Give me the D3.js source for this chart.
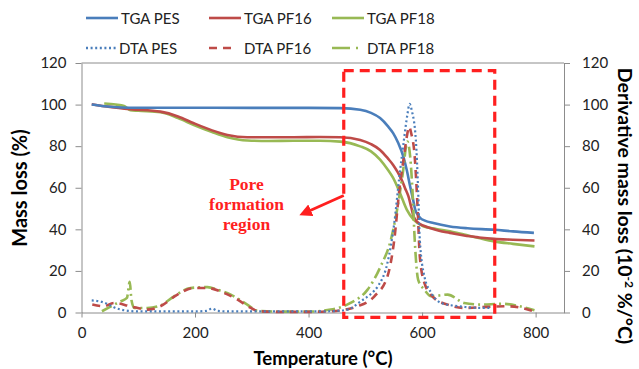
<!DOCTYPE html>
<html><head><meta charset="utf-8">
<script src="https://cdn.jsdelivr.net/npm/d3@7"></script>
<style>
body{margin:0;background:#fff;}
svg{display:block;font-family:Lato,"Open Sans",sans-serif;}
</style></head>
<body><svg id="chart" width="639" height="369"></svg>
<script>
// ---------- DATA ----------
const xTicks = [0, 200, 400, 600, 800];
const yTicks = [0, 20, 40, 60, 80, 100, 120];

const tgaPesT = [18, 40, 70, 100, 200, 300, 400, 456, 491, 510, 526, 540, 549, 558, 567, 573, 579, 584, 588, 593, 597, 605, 620, 649, 680, 727, 760, 797];
const tgaPesV = [100, 99.2, 98.6, 98.5, 98.5, 98.4, 98.4, 98.3, 97.5, 96, 93.5, 89.5, 86.3, 81.5, 75, 68.5, 60.6, 54.5, 49.4, 46.8, 45.4, 44.2, 43, 41.4, 40.5, 39.8, 39, 38.3];

const tgaPf16T = [18, 50, 86, 139, 170, 198, 230, 257, 292, 330, 374, 420, 456, 491, 510, 526, 540, 549, 557, 564, 570, 576, 581, 585, 594, 604, 614, 630, 649, 674, 700, 727, 760, 798];
const tgaPf16V = [100.2, 98.9, 97.8, 96.6, 94.3, 91, 87.6, 85.4, 84.3, 84.3, 84.3, 84.4, 84.3, 83, 81, 78.2, 74, 71, 67.5, 63.8, 59.8, 55.8, 50.5, 46.2, 43, 41.6, 40.6, 39.3, 38.3, 37, 36.1, 35.4, 35, 34.6];

const tgaPf18T = [40, 60, 75, 86, 100, 139, 170, 198, 230, 257, 292, 330, 374, 420, 456, 491, 510, 526, 540, 549, 561, 573, 585, 602, 625, 649, 674, 700, 727, 760, 798];
const tgaPf18V = [100.5, 100, 99.3, 97.3, 97, 96.3, 93.5, 90.2, 86.8, 84.3, 82.7, 82.5, 82.6, 82.6, 82.2, 79.9, 77.5, 73.5, 68.5, 64.7, 57.5, 49.5, 44.7, 41.5, 40.2, 39.1, 37.5, 35.8, 34.2, 33, 31.8];

const dtaPesT = [18, 36, 48, 57, 75, 100, 150, 200, 220, 230, 240, 260, 300, 350, 400, 439, 469, 492, 510, 522, 539, 551, 560, 568, 574, 578, 582, 589, 593, 596, 604, 616, 633, 651, 674, 700, 720];
const dtaPesV = [5.8, 5.1, 3.8, 2.5, 1.1, 0.5, 0.5, 0.5, 0.8, 1.9, 0.8, 0.5, 0.5, 0.5, 0.5, 0.6, 1.4, 5.4, 9, 12.6, 23.9, 43, 65.4, 83, 95, 100.3, 97, 83, 59, 35, 17.4, 9.5, 4.6, 3.5, 2.7, 2.2, 2.2];

const dtaPf16T = [19, 39, 57, 86, 116, 139, 169, 198, 222, 251, 275, 298, 313, 350, 400, 440, 486, 516, 539, 551, 560, 568, 574, 577, 581, 587, 592, 596, 604, 621, 645, 674, 716, 751, 797];
const dtaPf16V = [3.8, 3, 4.6, 3, 1.4, 3, 8.6, 11.8, 11.8, 9.4, 6.2, 2.2, 0.6, 0.3, 0.3, 0.6, 3, 7.8, 17.4, 35, 59, 75, 86, 89.4, 86, 75, 51, 27, 14.3, 7, 3.8, 2.2, 2.7, 3, 0.6];

const dtaPf18T = [36, 69, 80, 85, 88, 93, 116, 139, 163, 192, 222, 239, 263, 292, 310, 350, 400, 439, 474, 504, 527, 545, 557, 566, 574, 579, 583, 587, 593, 604, 616, 645, 674, 704, 739, 798];
const dtaPf18V = [0.6, 5.4, 7, 14.8, 6, 2.2, 2.2, 3.4, 7.8, 11.8, 12.2, 11, 8.6, 3.8, 0.8, 0.4, 0.4, 1.4, 4.6, 11, 22.2, 35, 51, 67, 82.2, 75, 59, 35, 15.8, 11, 7.8, 8.6, 4.6, 3.8, 4.2, 1.1];

// annotation box (data units)
const boxX = [462, 728];
const boxY = [-2.3, 116.3];

// ---------- LAYOUT ----------
const W = 639, H = 369;
const m = {left: 81.5, right: 75, top: 63, bottom: 56.5};
const svg = d3.select("#chart");
const x = d3.scaleLinear().domain([0, 850]).range([m.left, W - m.right]);
const y = d3.scaleLinear().domain([0, 120]).range([H - m.bottom, m.top]);
const yR = d3.scaleLinear().domain([0, 120]).range([H - m.bottom, m.top]);

const axisCol = "#8c8c8c";
const blue = "#4a7ebb", red = "#be4b48", green = "#98b954";

// frame top line
svg.append("line").attr("x1", x(0)).attr("x2", x(850)).attr("y1", y(120)).attr("y2", y(120))
  .attr("stroke", axisCol).attr("stroke-width", 1);

function styleAxis(g){
  g.select(".domain").attr("stroke", axisCol);
  g.selectAll(".tick line").attr("stroke", axisCol);
  g.selectAll(".tick text").attr("fill", "#222").style("font-size", "15px").style("font-family", "Lato, sans-serif");
}
svg.append("g").attr("transform", `translate(0,${y(0)})`)
  .call(d3.axisBottom(x).tickValues(xTicks).tickSize(5).tickSizeOuter(0).tickPadding(10))
  .call(styleAxis);
svg.append("g").attr("transform", `translate(${x(0)},0)`)
  .call(d3.axisLeft(y).tickValues(yTicks).tickSize(6).tickSizeOuter(0).tickPadding(9))
  .call(styleAxis);
svg.append("g").attr("transform", `translate(${x(850)},0)`)
  .call(d3.axisRight(yR).tickValues(yTicks).tickSize(6).tickSizeOuter(0).tickPadding(12))
  .call(styleAxis);

// ---------- SERIES ----------
function pts(T, V){ return T.map((t, i) => [t, V[i]]); }
const lineL = d3.line().x(d => x(d[0])).y(d => y(d[1])).curve(d3.curveMonotoneX);
const lineR = d3.line().x(d => x(d[0])).y(d => yR(d[1])).curve(d3.curveMonotoneX);

const dta = [
  {T: dtaPf18T, V: dtaPf18V, c: green, dash: "11,4,2,4", w: 2.6},
  {T: dtaPf16T, V: dtaPf16V, c: red, dash: "8,6", w: 2.6},
  {T: dtaPesT, V: dtaPesV, c: blue, dash: "2,2.6", w: 2.2}
];
const tga = [
  {T: tgaPf18T, V: tgaPf18V, c: green},
  {T: tgaPf16T, V: tgaPf16V, c: red},
  {T: tgaPesT, V: tgaPesV, c: blue}
];
tga.forEach(s => svg.append("path").attr("d", lineL(pts(s.T, s.V)))
  .attr("fill", "none").attr("stroke", s.c).attr("stroke-width", 2.6));
dta.forEach(s => svg.append("path").attr("d", lineR(pts(s.T, s.V)))
  .attr("fill", "none").attr("stroke", s.c).attr("stroke-width", s.w).attr("stroke-dasharray", s.dash));

// ---------- ANNOTATION ----------
const annRed = "#ff1f1f";
svg.append("rect")
  .attr("x", x(boxX[0])).attr("y", y(boxY[1]))
  .attr("width", x(boxX[1]) - x(boxX[0])).attr("height", y(boxY[0]) - y(boxY[1]))
  .attr("fill", "none").attr("stroke", annRed).attr("stroke-width", 3.2).attr("stroke-dasharray", "10,6");

svg.append("defs").append("marker").attr("id", "ah").attr("viewBox", "0 0 10 10")
  .attr("refX", 2).attr("refY", 5).attr("markerWidth", 4.5).attr("markerHeight", 4.5).attr("orient", "auto")
  .append("path").attr("d", "M0,0 L10,5 L0,10 z").attr("fill", annRed);
svg.append("line")
  .attr("x1", x(boxX[0])).attr("y1", y(56.3)).attr("x2", x(400)).attr("y2", y(48.7))
  .attr("stroke", annRed).attr("stroke-width", 2.8).attr("marker-end", "url(#ah)");

const ann = svg.append("text").attr("text-anchor", "middle").attr("fill", annRed)
  .style("font-family", "'Liberation Serif', 'Times New Roman', serif").style("font-weight", "bold").style("font-size", "17.5px");
["Pore", "formation", "region"].forEach((t, i) =>
  ann.append("tspan").attr("x", 246.5).attr("y", 190 + i * 20).text(t));

// ---------- TITLES ----------
svg.append("text").attr("transform", "translate(27,188) rotate(-90)").attr("text-anchor", "middle")
  .style("font-weight", "bold").style("font-size", "20px").text("Mass loss (%)");
svg.append("text").attr("x", 323).attr("y", 365).attr("text-anchor", "middle")
  .style("font-weight", "bold").style("font-size", "18.5px").text("Temperature (°C)");
const rt = svg.append("text").attr("transform", "translate(618,206) rotate(90)").attr("text-anchor", "middle")
  .style("font-weight", "bold").style("font-size", "19.5px");
rt.append("tspan").text("Derivative mass loss (10");
rt.append("tspan").attr("dy", -7).style("font-size", "12px").text("-2");
rt.append("tspan").attr("dy", 7).text(" %/°C)");

// ---------- LEGEND ----------
const legend = [
  {name: "TGA PES", c: blue, dash: null, col: 0, row: 0},
  {name: "TGA PF16", c: red, dash: null, col: 1, row: 0},
  {name: "TGA PF18", c: green, dash: null, col: 2, row: 0},
  {name: "DTA PES", c: blue, dash: "2,2.6", col: 0, row: 1},
  {name: "DTA PF16", c: red, dash: "8,6", col: 1, row: 1},
  {name: "DTA PF18", c: green, dash: "18,6,2,10", col: 2, row: 1}
];
const colX = [86, 209, 332];
legend.forEach(l => {
  const lx = colX[l.col], ly = 18 + l.row * 30;
  const len = l.row === 0 ? 32 : (l.col === 0 ? 30 : 27);
  svg.append("line").attr("x1", lx).attr("x2", lx + len).attr("y1", ly).attr("y2", ly)
    .attr("stroke", l.c).attr("stroke-width", l.row === 0 ? 2.6 : 2.4)
    .attr("stroke-dasharray", l.dash);
  const tx = l.row === 0 ? lx + 35 : lx + (l.col === 0 ? 33 : 35);
  svg.append("text").attr("x", tx).attr("y", ly + 5.5).style("font-size", "15px").attr("fill", "#222").text(l.name);
});
</script></body></html>
